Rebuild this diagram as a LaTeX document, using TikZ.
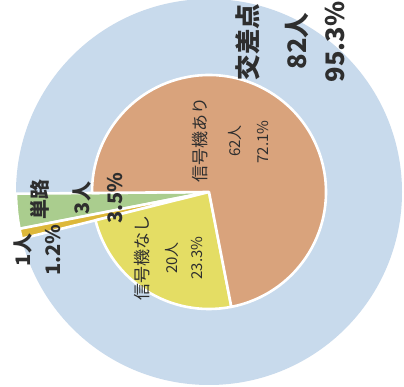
\documentclass[tikz,border=0pt]{standalone}
\usepackage{fontspec}
\setmainfont{Noto Sans CJK JP}
\newfontfamily\cjk{Noto Sans CJK JP}
\definecolor{cblue}{HTML}{C8DAEC}
\definecolor{corange}{HTML}{D9A37C}
\definecolor{cyellow}{HTML}{E4DD64}
\definecolor{cgreen}{HTML}{AACD8E}
\definecolor{cgold}{HTML}{DDB83A}
\definecolor{ctext}{HTML}{2E2E2E}
\tikzset{
  wedge/.style={draw=white, line width=2.6pt, line join=round},
  biglab/.style={rotate=90, inner sep=0pt, text=ctext, font=\cjk\bfseries\fontsize{25.5}{25.5}\selectfont},
  midlab/.style={rotate=90, inner sep=0pt, text=ctext, font=\cjk\bfseries\fontsize{20}{20}\selectfont},
  namelab/.style={rotate=90, inner sep=0pt, text=ctext, font=\cjk\fontsize{17}{17}\selectfont},
  numlab/.style={rotate=90, inner sep=0pt, text=ctext, font=\cjk\fontsize{15}{15}\selectfont},
}
\begin{document}
\begin{tikzpicture}[x=1pt,y=1pt]
\useasboundingbox (0,0) rectangle (404,387);
\fill[white] (0,0) rectangle (404,387);
\coordinate (C) at (209,195);
% outer pie
\fill[cblue] (C) circle[radius=193];
\filldraw[wedge, fill=cgreen] (C) -- ++(180.5:193) arc[start angle=180.5, end angle=191, radius=193] -- cycle;
\filldraw[wedge, fill=cgold] (C) -- ++(191:193) arc[start angle=191, end angle=194, radius=193] -- cycle;
% inner pie
\filldraw[wedge, fill=cyellow] (C) -- ++(194:117) arc[start angle=194, end angle=281, radius=117] -- cycle;
\filldraw[wedge, fill=corange] (C) -- ++(281:117) arc[start angle=281, end angle=540.5, radius=117] -- cycle;
% labels
\node[biglab] (kousaten) at (248,345) {交差点};
\node[biglab] (kn) at (297,346) {82人};
\node[biglab] (kp) at (335,345) {95.3\%};
\node[namelab] (ari) at (200,247) {信号機あり};
\node[numlab] (arin) at (235,246) {62人};
\node[numlab] (arip) at (263,245) {72.1\%};
\node[namelab] (nashi) at (142,129) {信号機なし};
\node[numlab] (nashin) at (172,129) {20人};
\node[numlab] (naship) at (197,129) {23.3\%};
\node[midlab] (tanro) at (40,187) {単路};
\node[midlab] (tn) at (82,189) {3人};
\node[midlab] (tp) at (115,189) {3.5\%};
\node[midlab] (on) at (23,137) {1人};
\node[midlab] (op) at (53,137) {1.2\%};
\end{tikzpicture}
\end{document}
